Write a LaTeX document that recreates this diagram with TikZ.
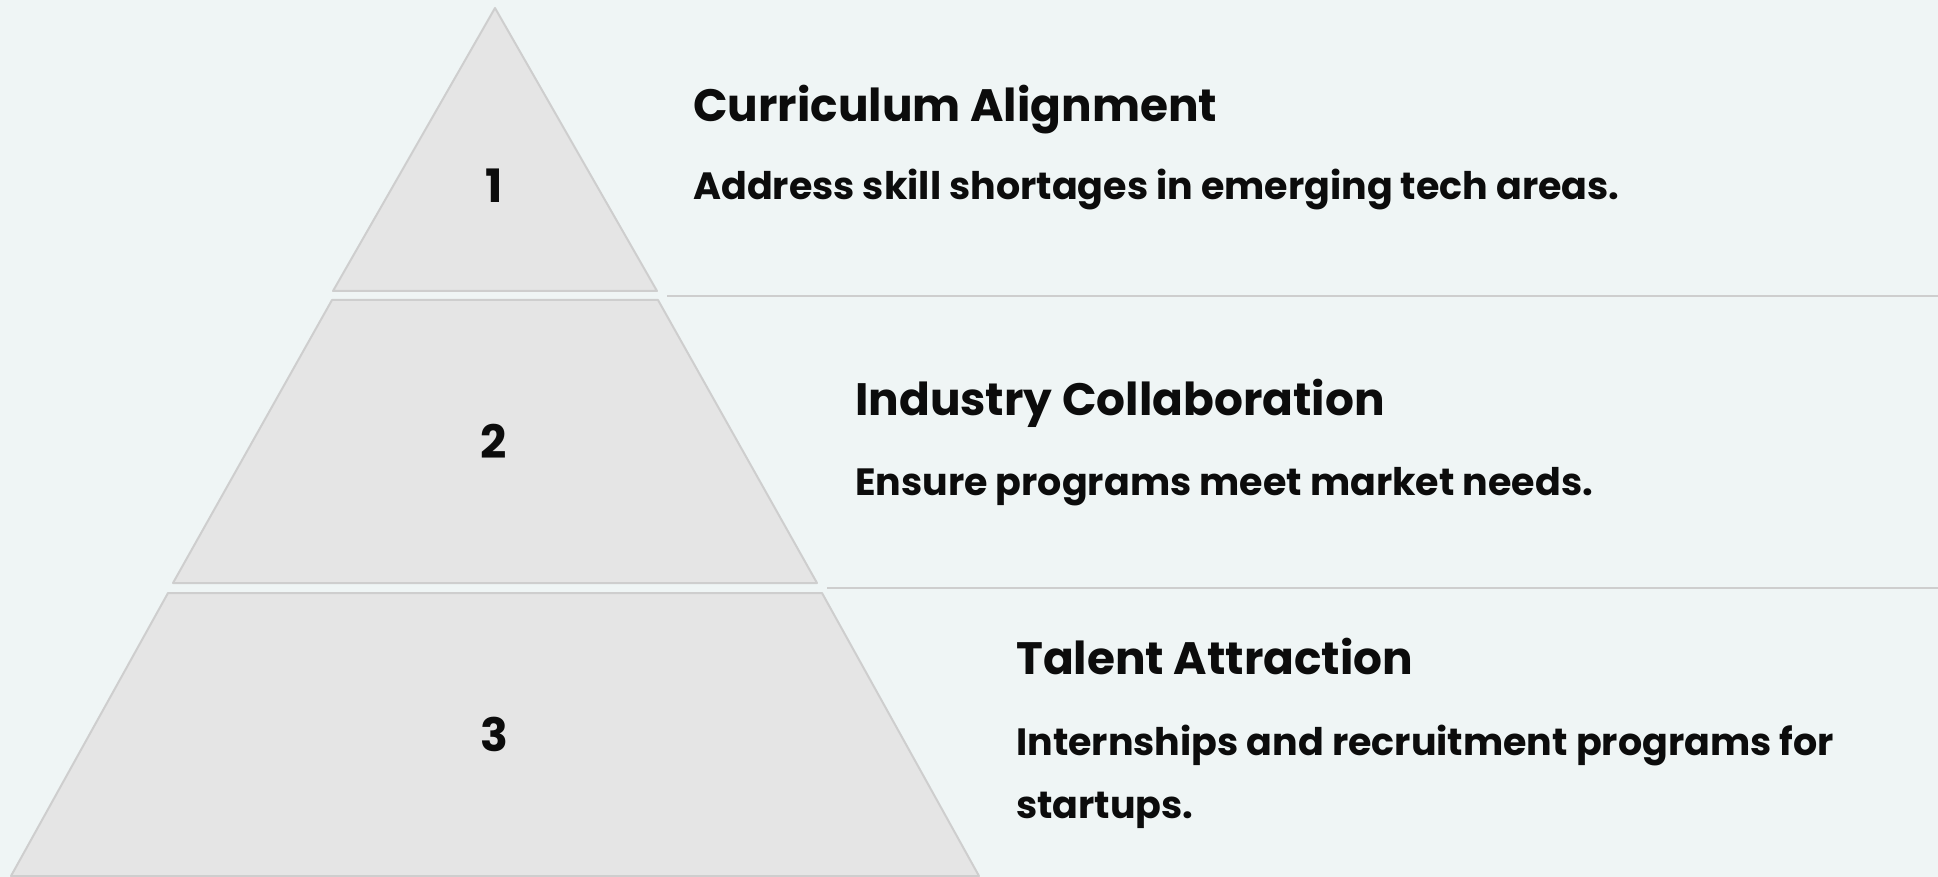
\documentclass[tikz,border=0pt]{standalone}
\usepackage{fontspec}
\setmainfont{Poppins}
\definecolor{bg}{RGB}{239,245,245}
\definecolor{tierfill}{RGB}{229,229,229}
\definecolor{tierline}{RGB}{206,206,206}
\definecolor{ink}{RGB}{12,12,12}
\begin{document}
\begin{tikzpicture}[x=1pt,y=-1pt,
 tier/.style={fill=tierfill,draw=tierline,line width=2pt,line join=round},
 divider/.style={draw=tierline,line width=1.8pt},
 num/.style={font=\fontsize{46}{46}\selectfont\bfseries,text=ink,inner sep=0pt},
 ttl/.style={anchor=base west,font=\fontsize{45.4}{46}\selectfont\bfseries,text=ink,inner sep=0pt},
 desc/.style={anchor=base west,font=\fontsize{38}{38}\selectfont\bfseries,text=ink,inner sep=0pt},
]
\fill[bg] (0,0) rectangle (1938,877);
\useasboundingbox (0,0) rectangle (1938,877);
% tiers
\draw[tier] (495,8) -- (657,291) -- (333,291) -- cycle;
\draw[tier] (332,300) -- (658,300) -- (817,583) -- (173,583) -- cycle;
\draw[tier] (168,593) -- (822,593) -- (979,876) -- (11,876) -- cycle;
% numbers
\node[num] (n1) at (494,186) {1};
\node[num] (n2) at (494,441) {2};
\node[num] (n3) at (494,734) {3};
% dividers
\coordinate (d1a) at (667,296);
\coordinate (d1b) at (1938,296);
\coordinate (d2a) at (827,588);
\coordinate (d2b) at (1938,588);
\draw[divider] (d1a) -- (d1b);
\draw[divider] (d2a) -- (d2b);
% texts
\node[ttl] (t1) at (693,122) {Curriculum Alignment};
\node[desc] (s1) at (693,200) {Address skill shortages in emerging tech areas.};
\node[ttl] (t2) at (855,415) {Industry Collaboration};
\node[desc] (s2) at (855,495) {Ensure programs meet market needs.};
\node[ttl] (t3) at (1016,674) {Talent Attraction};
\node[desc] (s3a) at (1016,755) {Internships and recruitment programs for};
\node[desc] (s3b) at (1016,818) {startups.};
\end{tikzpicture}
\end{document}
